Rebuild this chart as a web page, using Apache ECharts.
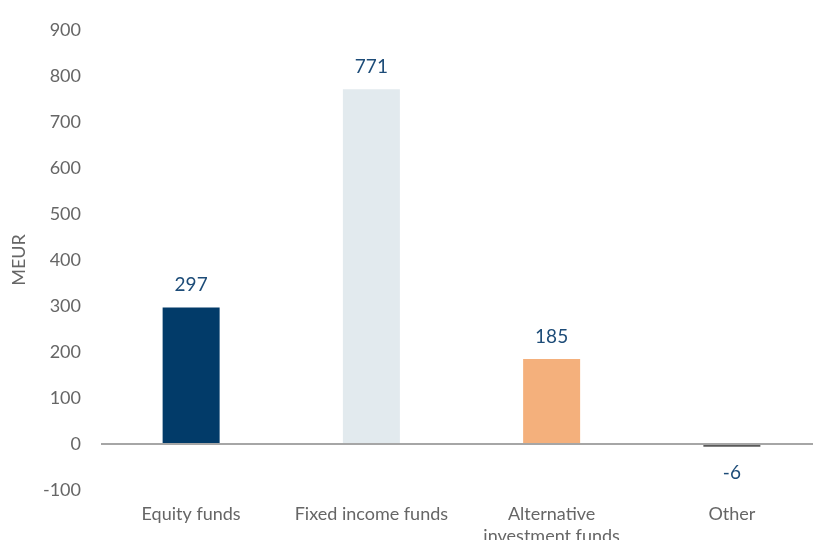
<!DOCTYPE html>
<html>
<head>
  <meta charset="utf-8">
  <title>chart</title>
  <script src="https://cdn.jsdelivr.net/npm/echarts@6/dist/echarts.min.js"></script>
  <style>
    html, body { margin: 0; padding: 0; background: #fff; }
    #main { width: 813px; height: 540px; }
  </style>
</head>
<body>
  <div id="main"></div>
  <script type="text/javascript">
    // data
    var categories = ['Equity funds', 'Fixed income funds', 'Alternative\ninvestment funds', 'Other'];
    var values = [297, 771, 185, -6];
    var barColors = ['#023b69', '#e2eaee', '#f4b07c', '#5a5a5a'];

    var myChart = echarts.init(document.getElementById('main'));

    var barData = [];
    for (var i = 0; i < values.length; i++) {
      barData.push({
        value: values[i],
        itemStyle: { color: barColors[i] },
        label: values[i] < 0 ? { position: 'bottom', distance: 17 } : { position: 'top' }
      });
    }

    var option = {
      textStyle: { fontFamily: 'Lato' },
      grid: { left: 101, right: -9, top: 30, bottom: 50, containLabel: false, outerBoundsMode: 'none' },
      xAxis: {
        type: 'category',
        data: categories,
        // labels sit below the plot; the zero line is drawn as a markLine
        axisLine: { show: false, onZero: false },
        axisTick: { show: false },
        axisLabel: { margin: 13, fontSize: 18, color: '#666', lineHeight: 22, interval: 0 }
      },
      yAxis: {
        type: 'value',
        min: -100,
        max: 900,
        interval: 100,
        name: 'MEUR',
        nameLocation: 'middle',
        nameGap: 73,
        nameTextStyle: { fontSize: 18, color: '#666' },
        axisLine: { show: false },
        axisTick: { show: false },
        splitLine: { show: false },
        axisLabel: { fontSize: 18, color: '#666', margin: 20 }
      },
      series: [{
        type: 'bar',
        barWidth: 57,
        data: barData,
        label: {
          show: true,
          fontSize: 19,
          color: '#1d4c78',
          distance: 13
        },
        markLine: {
          silent: true,
          symbol: 'none',
          label: { show: false },
          lineStyle: { color: '#a6a6a6', width: 2, type: 'solid' },
          data: [{ yAxis: 0 }]
        }
      }]
    };

    myChart.setOption(option);
  </script>
</body>
</html>
